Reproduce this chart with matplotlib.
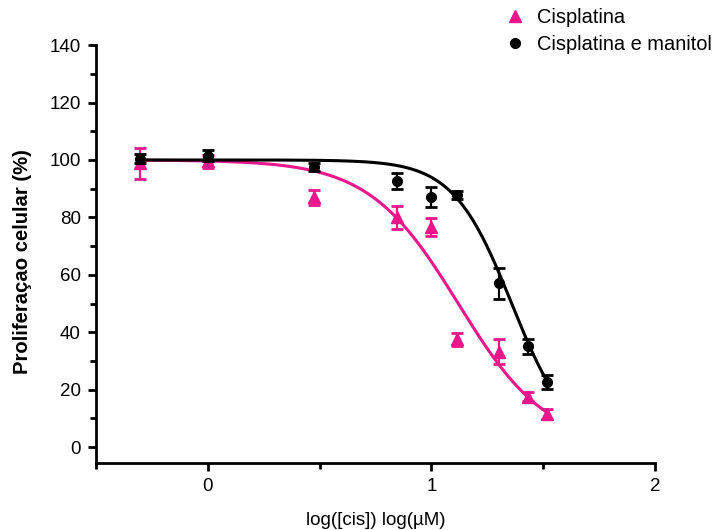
import numpy as np
import matplotlib
matplotlib.use("Agg")
import matplotlib.pyplot as plt
from matplotlib.ticker import MultipleLocator

plt.rcParams['font.family'] = ['Liberation Sans', 'DejaVu Sans']

# log10 of cisplatin concentration (µM)
log_conc = [-0.301, 0.0, 0.477, 0.845, 1.0, 1.114, 1.301, 1.431, 1.518]

# Cisplatina
cis_mean = [98.8, 99.5, 87.0, 80.0, 76.6, 37.5, 33.2, 17.6, 11.6]
cis_err = [5.4, 2.3, 2.6, 4.0, 3.2, 2.4, 4.3, 1.5, 1.8]

# Cisplatina e manitol
man_mean = [100.5, 101.5, 97.6, 92.7, 87.2, 87.8, 57.0, 35.2, 22.7]
man_err = [1.5, 1.8, 1.5, 2.8, 3.5, 1.5, 5.4, 2.6, 2.4]

# Four-parameter logistic fits (top, bottom, logIC50, Hill slope)
cis_fit = (100.0, 0.0, 1.12, 2.17)
man_fit = (100.0, 0.0, 1.359, 3.32)

series_labels = ['Cisplatina', 'Cisplatina e manitol']
pink = '#E9168C'
black = '#000000'


def logistic(x, top, bottom, logec, hill):
    return bottom + (top - bottom) / (1.0 + 10 ** ((x - logec) * hill))


fig = plt.figure(figsize=(7.13, 5.30), dpi=100)
ax = fig.add_axes([0.1346, 0.1264, 0.7841, 0.7886])

xs = np.linspace(min(log_conc), max(log_conc), 400)
ax.plot(xs, logistic(xs, *cis_fit), color=pink, lw=2.2, zorder=2)
ax.plot(xs, logistic(xs, *man_fit), color=black, lw=2.2, zorder=2)

h1 = ax.errorbar(log_conc, cis_mean, yerr=cis_err, fmt='^', color=pink,
                 ms=8, capsize=4, capthick=2, elinewidth=1.6, zorder=3)
h2 = ax.errorbar(log_conc, man_mean, yerr=man_err, fmt='o', color=black,
                 ms=7, capsize=4, capthick=2, elinewidth=1.6, zorder=4)

ax.set_xlim(-0.5, 2.0)
ax.set_ylim(-5.5, 140)
ax.xaxis.set_major_locator(MultipleLocator(1))
ax.xaxis.set_minor_locator(MultipleLocator(0.5))
ax.yaxis.set_major_locator(MultipleLocator(20))
ax.yaxis.set_minor_locator(MultipleLocator(10))

for s in ['top', 'right']:
    ax.spines[s].set_visible(False)
for s in ['left', 'bottom']:
    ax.spines[s].set_linewidth(2)

ax.tick_params(which='major', direction='out', length=6, width=2,
               labelsize=13.5, pad=5)
ax.tick_params(which='minor', direction='out', length=4, width=2)

ax.set_ylabel('Proliferaçao celular (%)', fontsize=14.6, fontweight='bold')
ax.yaxis.set_label_coords(-0.114, 0.481)
ax.set_xlabel('log([cis]) log(µM)', fontsize=13.5, labelpad=12)

fig.legend([h1[0], h2[0]], series_labels, loc='upper left',
           bbox_to_anchor=(0.697, 1.0), frameon=False, fontsize=14.4,
           handlelength=1.0, handletextpad=0.6, labelspacing=0.4,
           borderaxespad=0)

fig.savefig('out.png', dpi=100)
